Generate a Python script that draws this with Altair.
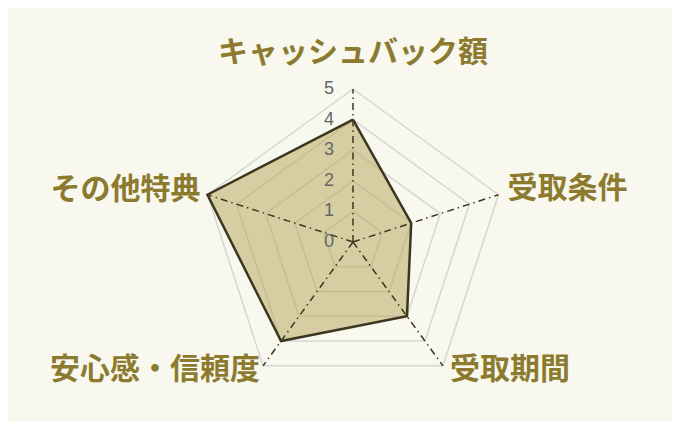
import math
import altair as alt
import pandas as pd

categories = ["キャッシュバック額", "受取条件", "受取期間", "安心感・信頼度", "その他特典"]
values = [4, 2, 3, 4, 5]
tick_labels = ["0", "1", "2", "3", "4", "5"]
levels = [1, 2, 3, 4, 5]
max_r = 5

n = len(categories)
angles = [math.pi / 2 - 2 * math.pi * i / n for i in range(n)]

def pt(r, a):
    return r * math.cos(a), r * math.sin(a)

# grid pentagons
grid_rows = []
for lv in levels:
    for k in range(n + 1):
        x, y = pt(lv, angles[k % n])
        grid_rows.append({"level": lv, "order": k, "x": x, "y": y})
grid_df = pd.DataFrame(grid_rows)

# spokes
spoke_rows = []
for i, c in enumerate(categories):
    for k, r in enumerate([0, max_r]):
        x, y = pt(r, angles[i])
        spoke_rows.append({"cat": c, "order": k, "x": x, "y": y})
spoke_df = pd.DataFrame(spoke_rows)

# data polygon
poly_rows = []
for k in range(n + 1):
    i = k % n
    x, y = pt(values[i], angles[i])
    poly_rows.append({"order": k, "x": x, "y": y, "cat": categories[i], "v": values[i]})
poly_df = pd.DataFrame(poly_rows)

# category labels
lab_rows = []
for i, c in enumerate(categories):
    x, y = pt(max_r, angles[i])
    lab_rows.append({"cat": c, "x": x, "y": y, "i": i})
lab_df = pd.DataFrame(lab_rows)

# tick labels
tick_df = pd.DataFrame({"t": tick_labels, "x": [0.0] * len(tick_labels),
                        "y": [float(t) for t in tick_labels]})

W, H = 664, 413
unit = 30.6
cx, cy = 345, 234
xs = alt.Scale(domain=[-cx / unit, (W - cx) / unit], nice=False, zero=False)
ys = alt.Scale(domain=[-(H - cy) / unit, cy / unit], nice=False, zero=False)
X = alt.X("x:Q", scale=xs, axis=None)
Y = alt.Y("y:Q", scale=ys, axis=None)

base_grid = alt.Chart(grid_df).mark_line(color="#d6d6d2", strokeWidth=1.5).encode(
    x=X, y=Y, detail="level:N", order="order:Q")

poly = alt.Chart(poly_df).mark_line(
    color="#3b3620", strokeWidth=2.5, fill="#b3a355", fillOpacity=0.5,
    strokeJoin="miter").encode(x=X, y=Y, order="order:Q")

spokes = alt.Chart(spoke_df).mark_line(
    color="#3b3620", strokeWidth=1.5, strokeDash=[7, 4, 1.5, 4]).encode(
    x=X, y=Y, detail="cat:N", order="order:Q")

ticks = alt.Chart(tick_df).mark_text(
    align="right", baseline="middle", dx=-19, fontSize=18, color="#666666",
    font="Liberation Sans").encode(x=X, y=Y, text="t:N")

lab_font = dict(fontSize=30, fontWeight="bold", color="#8c7b2f",
                font="Noto Sans CJK JP", baseline="middle")
lab_top = alt.Chart(lab_df[lab_df.i == 0]).mark_text(
    align="center", dy=-36, **lab_font).encode(x=X, y=Y, text="cat:N")
lab_r1 = alt.Chart(lab_df[lab_df.i == 1]).mark_text(
    align="left", dx=9, dy=-6, **lab_font).encode(x=X, y=Y, text="cat:N")
lab_r2 = alt.Chart(lab_df[lab_df.i == 2]).mark_text(
    align="left", dx=7, dy=4, **lab_font).encode(x=X, y=Y, text="cat:N")
lab_l1 = alt.Chart(lab_df[lab_df.i == 3]).mark_text(
    align="right", dx=-3, dy=4, **lab_font).encode(x=X, y=Y, text="cat:N")
lab_l2 = alt.Chart(lab_df[lab_df.i == 4]).mark_text(
    align="right", dx=-7, dy=-5, **lab_font).encode(x=X, y=Y, text="cat:N")

chart = alt.layer(base_grid, poly, spokes, ticks, lab_top, lab_r1, lab_r2, lab_l1, lab_l2).properties(
    width=W, height=H, padding=0, autosize=alt.AutoSizeParams(type="none"),
    background="#f9f8ef"
).configure_view(stroke=None)

chart.save("out.html", embed_options={"renderer": "svg", "actions": False})
